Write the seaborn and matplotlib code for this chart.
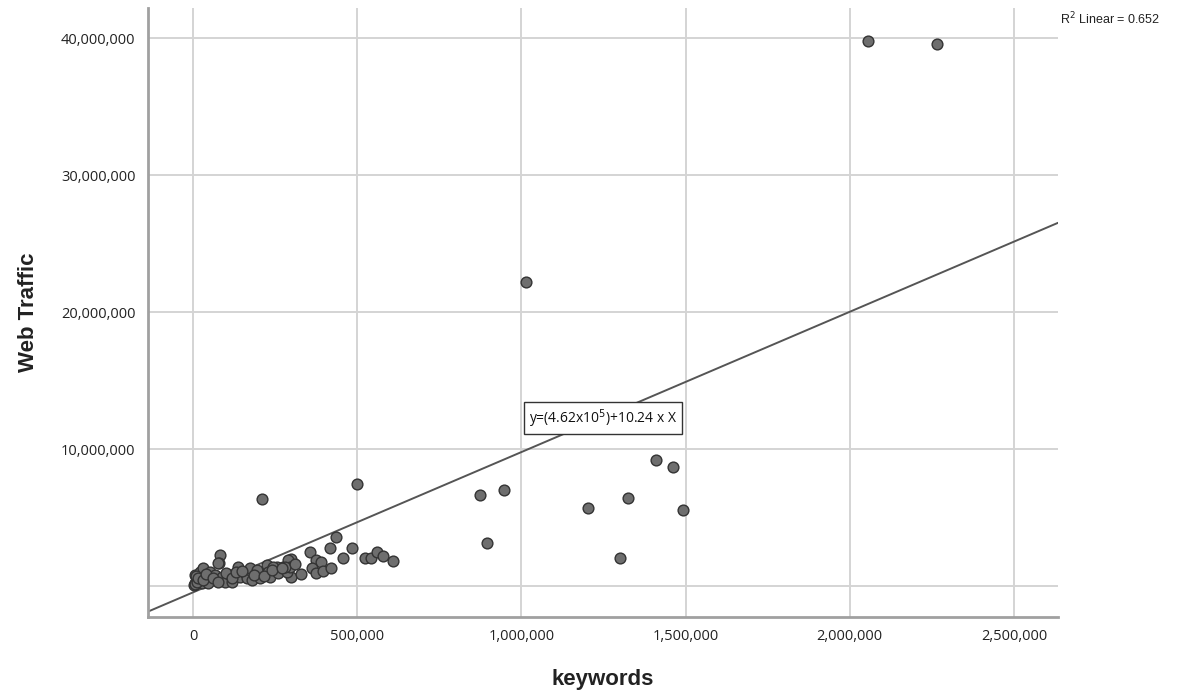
import matplotlib
matplotlib.use("Agg")
import matplotlib.pyplot as plt
import seaborn as sns
import pandas as pd

# ---- data ----
keywords = [
    2055000, 2265000, 1014000, 1410000, 1461000, 1324000, 1203000, 1492000, 1300000,
    874000, 947000, 895000, 499000, 210000,
    436500, 418300, 484200, 357000, 457600, 522800, 543100, 561200, 577500, 609000,
    373000, 391000, 362400, 374500, 396800, 420200, 297500, 297500, 275000,
    6100, 6100, 21300, 31400, 36500, 26500, 51800, 56900, 46600, 67000,
    82200, 80100, 87400, 97400, 112700, 117800, 138000, 143100, 158300, 163500,
    173600, 178700, 198900, 204000, 224400, 229300, 234500, 254900, 259800,
    285300, 290200, 295400, 77000, 173600, 194000, 244500, 280200, 9100,
    2000, 5000, 12000, 15000, 30000, 40000, 60000, 75000, 100000, 120000,
    130000, 150000, 185000, 215000, 240000, 270000, 310000, 330000,
]
web_traffic = [
    39800000, 39580000, 22160000, 9180000, 8670000, 6410000, 5690000, 5540000, 2040000,
    6630000, 7000000, 3130000, 7430000, 6340000,
    3550000, 2790000, 2790000, 2500000, 2020000, 2060000, 2020000, 2500000, 2190000, 1820000,
    1900000, 1770000, 1330000, 970000, 1090000, 1290000, 1950000, 680000, 1410000,
    800000, 190000, 1040000, 1290000, 680000, 190000, 1040000, 440000, 190000, 800000,
    2260000, 1700000, 680000, 320000, 800000, 320000, 1410000, 680000, 920000, 560000,
    1170000, 440000, 1040000, 560000, 1530000, 1040000, 680000, 1410000, 920000,
    1040000, 1900000, 1410000, 1650000, 1290000, 1170000, 1410000, 1410000, 730000,
    50000, 120000, 300000, 550000, 450000, 900000, 600000, 300000, 950000, 550000,
    1000000, 1100000, 800000, 700000, 1200000, 1300000, 1600000, 900000,
]
fit_intercept = -462000
fit_slope = 10.24
equation_label = "y=(4.62x10$^5$)+10.24 x X"
r2_label = "R$^2$ Linear = 0.652"
x_ticks = [0, 500000, 1000000, 1500000, 2000000, 2500000]
y_ticks = [0, 10000000, 20000000, 30000000, 40000000]
y_tick_labels = ["", "10,000,000", "20,000,000", "30,000,000", "40,000,000"]

df = pd.DataFrame({"keywords": keywords, "Web Traffic": web_traffic})

sns.set_style("white")
plt.rcParams["font.family"] = ["Open Sans", "DejaVu Sans"]

fig = plt.figure(figsize=(11.91, 6.91), dpi=100)
ax = fig.add_axes([0.1243, 0.1071, 0.764, 0.8813])

ax.set_xlim(-137000, 2634000)
ax.set_ylim(-2260000, 42190000)

ax.set_axisbelow(True)
ax.grid(True, color="#d4d4d4", linewidth=1.4)

ax.axline((0, fit_intercept), slope=fit_slope, color="#555555", linewidth=1.4, zorder=2)

sns.scatterplot(data=df, x="keywords", y="Web Traffic", ax=ax,
                s=60, color="#6e6e6e", edgecolor="#333333", linewidth=1.0, zorder=3)

ax.set_xticks(x_ticks)
ax.set_xticklabels([f"{v:,}" for v in x_ticks])
ax.set_yticks(y_ticks)
ax.set_yticklabels(y_tick_labels)
ax.tick_params(axis="both", length=0, labelsize=10.5, colors="#222222", pad=9)

for side in ["top", "right"]:
    ax.spines[side].set_visible(False)
for side in ["left", "bottom"]:
    ax.spines[side].set_color("#a0a0a0")
    ax.spines[side].set_linewidth(2)

ax.set_xlabel("keywords", fontsize=16, fontweight="bold", family="Liberation Sans",
              color="#222222", labelpad=18)
ax.set_ylabel("Web Traffic", fontsize=16, fontweight="bold", family="Liberation Sans",
              color="#222222", labelpad=16)

ax.text(1248000, 12250000, equation_label, fontsize=10, ha="center", va="center",
        color="#111111", zorder=4,
        bbox=dict(boxstyle="square,pad=0.35", facecolor="white", edgecolor="#333333",
                  linewidth=1))

fig.text(0.8883 + 0.002, 0.973, r2_label, fontsize=9, family="Liberation Sans",
         ha="left", va="center", color="#222222")

fig.savefig("out.png", dpi=100, facecolor="white")
